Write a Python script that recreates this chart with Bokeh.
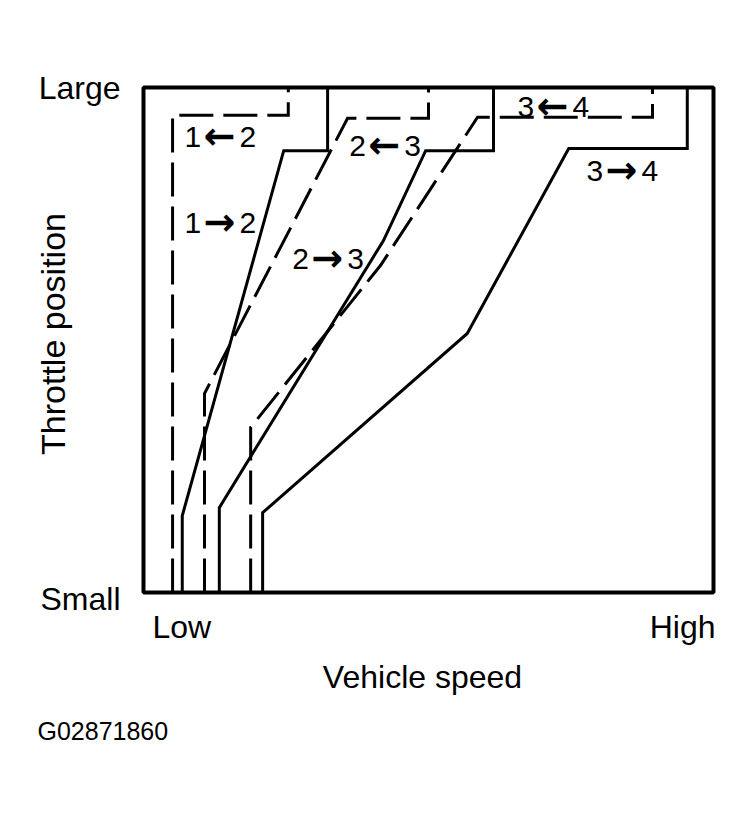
import math
from bokeh.plotting import figure
from bokeh.models import Range1d
from bokeh.core.properties import value
from bokeh.embed import file_html
from bokeh.resources import INLINE

# ---------------- data (speed: 0 = Low .. 100 = High, throttle: 0 = Small .. 100 = Large)
x_tick_values = [0, 100]
x_tick_labels = ["Low", "High"]
y_tick_values = [0, 100]
y_tick_labels = ["Small", "Large"]
x_title = "Vehicle speed"
y_title = "Throttle position"
code_text = "G02871860"

# upshift lines (solid)
up12_speed = [6.8, 6.8, 24.6, 32.3, 32.3]
up12_throttle = [0, 15.2, 87.5, 87.5, 100]
up23_speed = [13.3, 13.3, 42.1, 49.5, 61.4, 61.4]
up23_throttle = [0, 16.8, 69.7, 87.5, 87.5, 100]
up34_speed = [20.9, 20.9, 56.8, 74.6, 95.4, 95.4]
up34_throttle = [0, 15.8, 51.3, 87.9, 87.9, 100]

# downshift lines (dashed)
dn12_speed = [5.1, 5.1, 25.4, 25.4]
dn12_throttle = [0, 94.5, 94.5, 100]
dn23_speed = [10.7, 10.7, 35.8, 50.0, 50.0]
dn23_throttle = [0, 39.4, 93.9, 93.9, 100]
dn34_speed = [18.8, 18.8, 41.6, 58.6, 89.3, 89.3]
dn34_throttle = [0, 32.7, 64.8, 94.1, 94.1, 100]

shift_labels = ["1←2", "1→2", "2←3", "2→3", "3←4", "3→4"]
shift_label_speed = [7.2, 7.2, 36.1, 26.1, 65.6, 77.7]
shift_label_throttle = [90.1, 73.1, 88.5, 66.1, 96.2, 83.4]

# ---------------- layout
W, H = 745, 800
BOX_L, BOX_R, BOX_T, BOX_B = 143, 713, 87, 592
sx = (BOX_R - BOX_L) / 100.0
sy = (BOX_B - BOX_T) / 100.0

p = figure(width=W, height=H,
           x_range=Range1d(-BOX_L / sx, 100 + (W - BOX_R) / sx),
           y_range=Range1d(-(H - BOX_B) / sy, 100 + BOX_T / sy),
           x_axis_type=None, y_axis_type=None,
           toolbar_location=None, output_backend="svg",
           min_border=0, outline_line_color=None)
p.grid.visible = False
p.background_fill_color = "white"
p.border_fill_color = "white"

FONT = value("Liberation Sans")
ARROW_FONT = value("DejaVu Sans")
BLACK = "black"

# frame box
p.quad(left=[x_tick_values[0]], right=[x_tick_values[1]],
       bottom=[y_tick_values[0]], top=[y_tick_values[1]],
       fill_alpha=0, line_color=BLACK, line_width=4)

for xs, ys in [(up12_speed, up12_throttle), (up23_speed, up23_throttle), (up34_speed, up34_throttle)]:
    p.line(xs, ys, line_color=BLACK, line_width=3, line_join="miter")

for xs, ys in [(dn12_speed, dn12_throttle), (dn23_speed, dn23_throttle), (dn34_speed, dn34_throttle)]:
    p.line(xs, ys, line_color=BLACK, line_width=3, line_dash="34 10", line_join="miter")

# shift labels: gear digits + bold arrow between them
left_digits = [s[0] for s in shift_labels]
arrows = [s[1] for s in shift_labels]
right_digits = [s[2] for s in shift_labels]
p.text(x=shift_label_speed, y=shift_label_throttle, text=left_digits,
       text_font=FONT, text_font_size="30px", text_color=BLACK,
       text_align="left", text_baseline="middle")
p.text(x=shift_label_speed, y=shift_label_throttle, text=arrows, x_offset=35, y_offset=-1,
       text_font=ARROW_FONT, text_font_style="bold", text_font_size="38px", text_color=BLACK,
       text_align="center", text_baseline="middle")
p.text(x=shift_label_speed, y=shift_label_throttle, text=right_digits, x_offset=55,
       text_font=FONT, text_font_size="30px", text_color=BLACK,
       text_align="left", text_baseline="middle")

# tick labels
TICK = "32px"
p.text(x=[x_tick_values[0]], y=[y_tick_values[0]], text=[x_tick_labels[0]],
       x_offset=9, y_offset=34, text_font=FONT, text_font_size=TICK,
       text_align="left", text_baseline="middle", text_color=BLACK)
p.text(x=[x_tick_values[1]], y=[y_tick_values[0]], text=[x_tick_labels[1]],
       x_offset=2, y_offset=34, text_font=FONT, text_font_size=TICK,
       text_align="right", text_baseline="middle", text_color=BLACK)
p.text(x=[x_tick_values[0]], y=[y_tick_values[0]], text=[y_tick_labels[0]],
       x_offset=-23, y_offset=6, text_font=FONT, text_font_size=TICK,
       text_align="right", text_baseline="middle", text_color=BLACK)
p.text(x=[x_tick_values[0]], y=[y_tick_values[1]], text=[y_tick_labels[1]],
       x_offset=-23, y_offset=0, text_font=FONT, text_font_size=TICK,
       text_align="right", text_baseline="middle", text_color=BLACK)

# axis titles
p.text(x=[50], y=[y_tick_values[0]], text=[x_title], x_offset=-6, y_offset=84,
       text_font=FONT, text_font_size="32px", text_align="center",
       text_baseline="middle", text_color=BLACK)
p.text(x=[x_tick_values[0]], y=[50], text=[y_title], x_offset=-91, y_offset=-6,
       angle=math.pi / 2, text_font=FONT, text_font_size="34px",
       text_align="center", text_baseline="middle", text_color=BLACK)

# figure code
p.text(x=[x_tick_values[0]], y=[y_tick_values[0]], text=[code_text],
       x_offset=-106, y_offset=138, text_font=FONT, text_font_size="25px",
       text_align="left", text_baseline="middle", text_color=BLACK)

open("out.html", "w").write(file_html(p, INLINE))
